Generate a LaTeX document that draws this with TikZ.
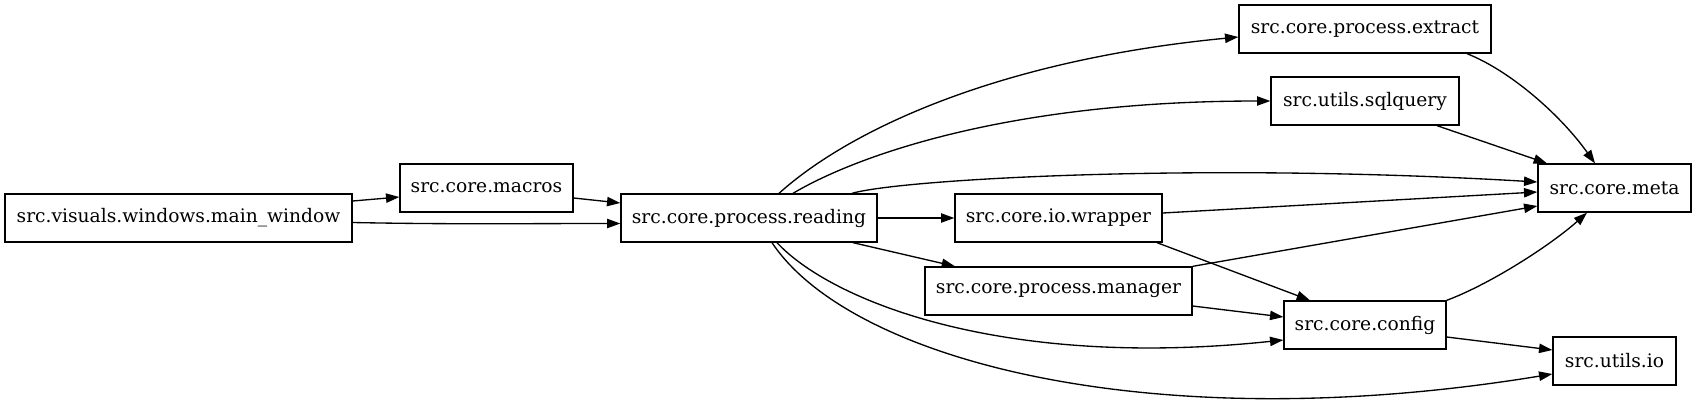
\documentclass[tikz,border=0pt]{standalone}
\usepackage{fontspec}
\setmainfont{DejaVu Serif}
\usepackage{tikz}
\usetikzlibrary{arrows.meta}

\tikzset{
    module/.style={draw, rectangle, line width=1pt, inner sep=0pt,
        minimum height=36pt, font=\fontsize{14}{16}\selectfont},
    deparrow/.style={-{Triangle[length=10pt,width=7pt]}, line width=1pt}
}

\begin{document}
\begin{tikzpicture}[x=0.75pt, y=-0.75pt]
    \useasboundingbox (0,0) rectangle (1696,408);

    % ===== Modules =====
    \node[module, minimum width=260.25pt] (mainwin) at (178.5,218) {src.visuals.windows.main\_window};
    \node[module, minimum width=129.75pt] (macros) at (486.5,188) {src.core.macros};
    \node[module, minimum width=192pt] (reading) at (749,218) {src.core.process.reading};
    \node[module, minimum width=189pt] (extract) at (1365,29) {src.core.process.extract};
    \node[module, minimum width=141pt] (sqlquery) at (1365,101) {src.utils.sqlquery};
    \node[module, minimum width=155.25pt] (wrapper) at (1058.5,218) {src.core.io.wrapper};
    \node[module, minimum width=200.25pt] (manager) at (1058.5,291) {src.core.process.manager};
    \node[module, minimum width=114.75pt] (meta) at (1614.5,188) {src.core.meta};
    \node[module, minimum width=121.5pt] (config) at (1365,325) {src.core.config};
    \node[module, minimum width=92.25pt] (utilsio) at (1614.5,361) {src.utils.io};

    % ===== Imports of main_window and macros =====
    \draw[deparrow] ([shift={(0,-17)}]mainwin.east) -- ([shift={(0,9)}]macros.west);
    \draw[deparrow] ([shift={(0,4.5)}]mainwin.east) .. controls +(100,2) and +(-100,0) .. ([shift={(0,5.5)}]reading.west);
    \draw[deparrow] ([shift={(0,10)}]macros.east) -- ([shift={(0,-15)}]reading.west);

    % ===== Imports of reading =====
    \draw[deparrow] ([shift={(30,0)}]reading.north) .. controls +(71,-64) and +(-239,23) .. ([shift={(0,8)}]extract.west);
    \draw[deparrow] ([shift={(44,0)}]reading.north) .. controls +(57,-34) and +(-271,0) .. (sqlquery.west);
    \draw[deparrow] ([shift={(103,0)}]reading.north) .. controls +(48,-14) and +(-338,-20) .. ([shift={(0,-6)}]meta.west);
    \draw[deparrow] (reading.east) -- (wrapper.west);
    \draw[deparrow] ([shift={(104,0)}]reading.south) -- ([shift={(-103.5,0)}]manager.north);
    \draw[deparrow] ([shift={(28,0)}]reading.south) .. controls +(53,57) and +(-284,30) .. ([shift={(0,15)}]config.west);
    \draw[deparrow] ([shift={(23,0)}]reading.south) .. controls +(78,117) and +(-403,66) .. ([shift={(0,13)}]utilsio.west);

    % ===== Imports into meta, config and io =====
    \draw[deparrow] ([shift={(102,0)}]extract.south) .. controls +(43,17) and +(-35,-49) .. ([shift={(-19.5,0)}]meta.north);
    \draw[deparrow] ([shift={(72,0)}]sqlquery.south) -- ([shift={(-67.5,0)}]meta.north);
    \draw[deparrow] ([shift={(0,-5)}]wrapper.east) -- ([shift={(0,4)}]meta.west);
    \draw[deparrow] (manager.north east) -- ([shift={(0,18)}]meta.west);
    \draw[deparrow] ([shift={(98.5,0)}]wrapper.south) -- ([shift={(-55,0)}]config.north);
    \draw[deparrow] ([shift={(0,15)}]manager.east) -- ([shift={(0,-8)}]config.west);
    \draw[deparrow] (config.north east) .. controls +(43,-16) and +(-37,33) .. ([shift={(-27.5,0)}]meta.south);
    \draw[deparrow] ([shift={(0,12)}]config.east) -- ([shift={(0,-11)}]utilsio.west);
\end{tikzpicture}
\end{document}
